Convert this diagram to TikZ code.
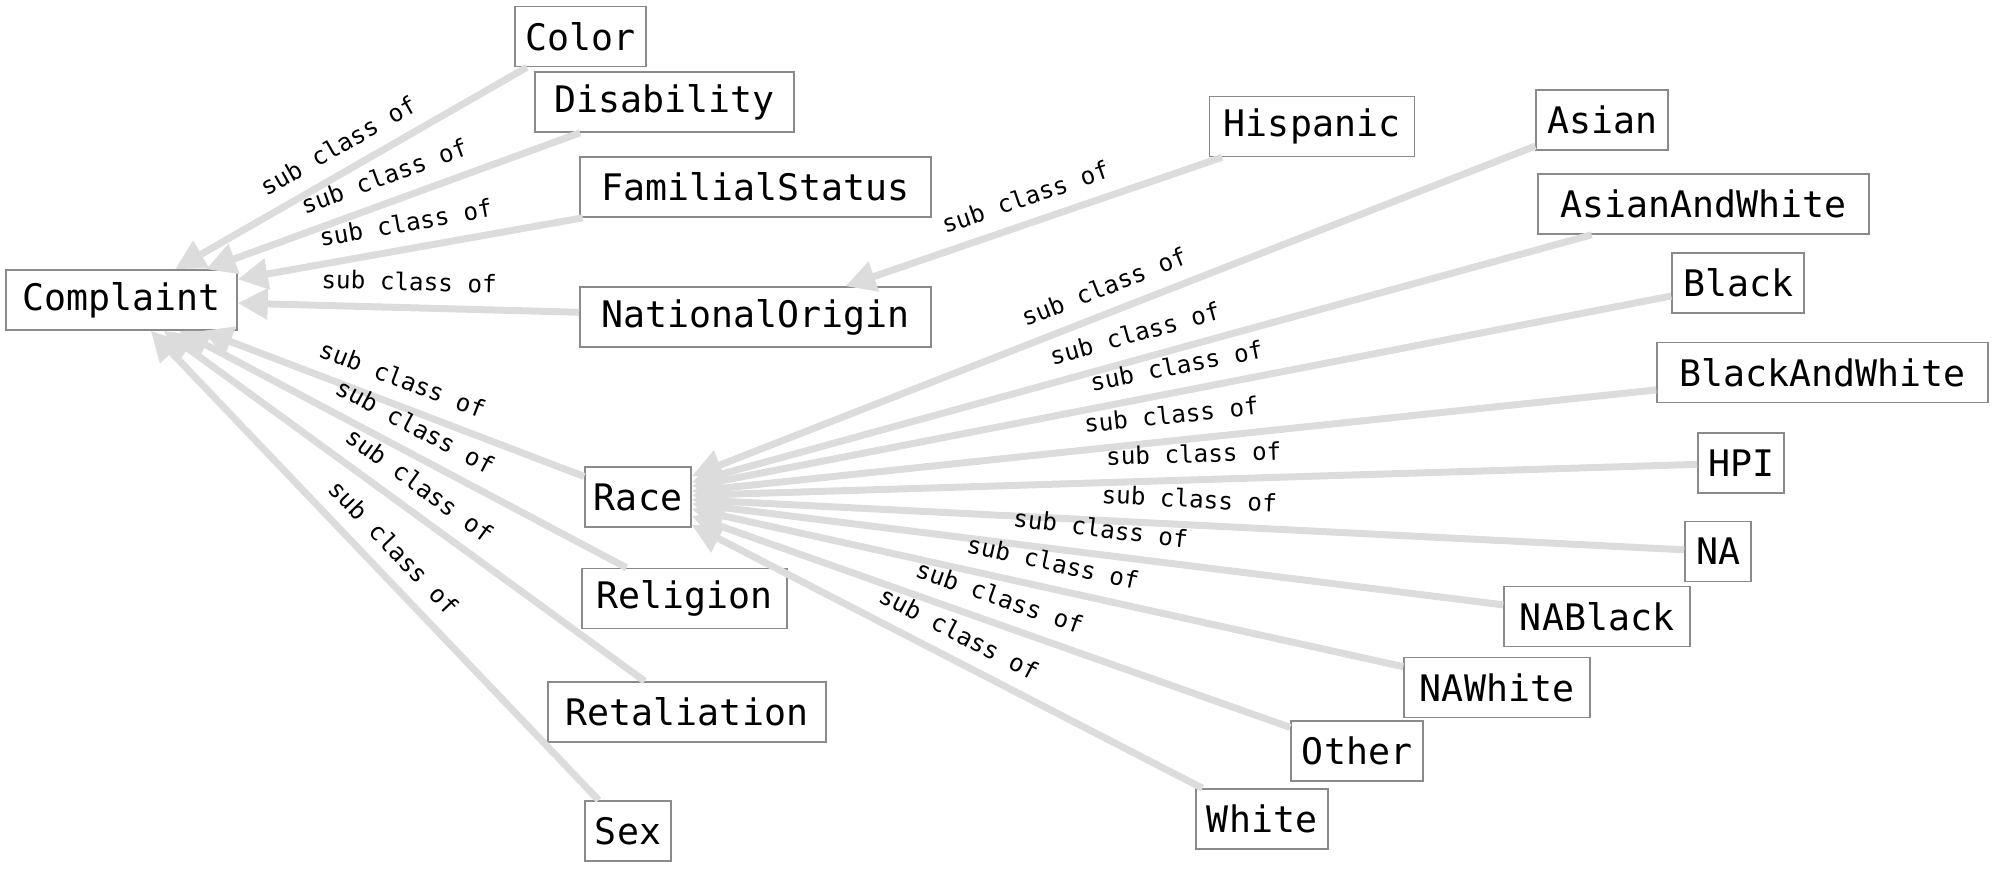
\documentclass[tikz,border=0pt]{standalone}
\usepackage{fontspec}
\setmonofont{DejaVu Sans Mono}
\usepackage{tikz}
\usetikzlibrary{arrows.meta,positioning}
\definecolor{boxgray}{HTML}{8A8A8A}
\definecolor{edgegray}{HTML}{DCDCDC}

\begin{document}
\begin{tikzpicture}[
    cls/.style={draw=boxgray,line width=0.45pt,fill=white,inner sep=0pt,
      minimum height=0.6cm,font=\ttfamily\fontsize{10.4}{12}\selectfont},
    sub/.style={draw=edgegray,line width=0.07cm,-{Triangle[length=0.3cm,width=0.3cm]}},
    lbl/.style={sloped,above,inner sep=3.8pt,font=\ttfamily\fontsize{6.9}{8}\selectfont}]
  \useasboundingbox (0,0) rectangle (20,-8.74);
  % classes
  \node[cls,minimum width=2.31cm] (complaint) at (1.215,-3.00) {Complaint};
  \node[cls,minimum width=1.31cm] (color) at (5.805,-0.365) {Color};
  \node[cls,minimum width=2.59cm] (disability) at (6.645,-1.02) {Disability};
  \node[cls,minimum width=3.51cm] (familial) at (7.555,-1.87) {FamilialStatus};
  \node[cls,minimum width=3.51cm] (national) at (7.555,-3.17) {NationalOrigin};
  \node[cls,minimum width=1.06cm] (race) at (6.38,-4.97) {Race};
  \node[cls,minimum width=2.05cm] (religion) at (6.845,-5.985) {Religion};
  \node[cls,minimum width=2.78cm] (retaliation) at (6.87,-7.12) {Retaliation};
  \node[cls,minimum width=0.86cm] (sex) at (6.28,-8.31) {Sex};
  \node[cls,minimum width=2.05cm] (hispanic) at (13.12,-1.265) {Hispanic};
  % race subclasses
  \node[cls,minimum width=1.32cm] (asian) at (16.02,-1.20) {Asian};
  \node[cls,minimum width=3.31cm] (asianwhite) at (17.035,-2.04) {AsianAndWhite};
  \node[cls,minimum width=1.32cm] (black) at (17.38,-2.83) {Black};
  \node[cls,minimum width=3.31cm] (blackwhite) at (18.225,-3.725) {BlackAndWhite};
  \node[cls,minimum width=0.86cm] (hpi) at (17.41,-4.63) {HPI};
  \node[cls,minimum width=0.66cm] (na) at (17.18,-5.515) {NA};
  \node[cls,minimum width=1.86cm] (nablack) at (15.97,-6.165) {NABlack};
  \node[cls,minimum width=1.86cm] (nawhite) at (14.97,-6.875) {NAWhite};
  \node[cls,minimum width=1.32cm] (other) at (13.57,-7.51) {Other};
  \node[cls,minimum width=1.32cm] (white) at (12.62,-8.19) {White};
  % sub class of
  \draw[sub] (color) -- node[lbl] {sub class of} (complaint);
  \draw[sub] (disability) -- node[lbl] {sub class of} (complaint);
  \draw[sub] (familial) -- node[lbl] {sub class of} (complaint);
  \draw[sub] (national) -- node[lbl] {sub class of} (complaint);
  \draw[sub] (race) -- node[lbl] {sub class of} (complaint);
  \draw[sub] (religion) -- node[lbl] {sub class of} (complaint);
  \draw[sub] (retaliation) -- node[lbl] {sub class of} (complaint);
  \draw[sub] (sex) -- node[lbl] {sub class of} (complaint);
  \draw[sub] (hispanic) -- node[lbl] {sub class of} (national);
  \draw[sub] (asian) -- node[lbl] {sub class of} (race);
  \draw[sub] (asianwhite) -- node[lbl] {sub class of} (race);
  \draw[sub] (black) -- node[lbl] {sub class of} (race);
  \draw[sub] (blackwhite) -- node[lbl] {sub class of} (race);
  \draw[sub] (hpi) -- node[lbl] {sub class of} (race);
  \draw[sub] (na) -- node[lbl] {sub class of} (race);
  \draw[sub] (nablack) -- node[lbl] {sub class of} (race);
  \draw[sub] (nawhite) -- node[lbl] {sub class of} (race);
  \draw[sub] (other) -- node[lbl] {sub class of} (race);
  \draw[sub] (white) -- node[lbl] {sub class of} (race);
\end{tikzpicture}
\end{document}
